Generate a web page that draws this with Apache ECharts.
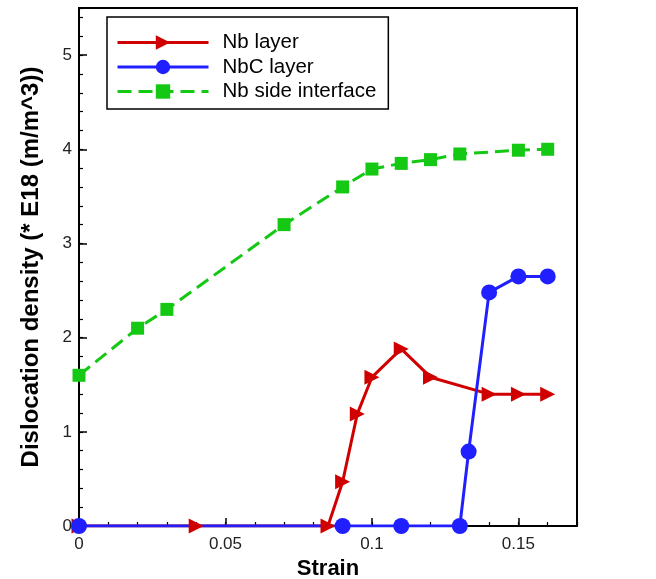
<!DOCTYPE html>
<html>
<head>
<meta charset="utf-8">
<script src="https://cdn.jsdelivr.net/npm/echarts@6/dist/echarts.min.js"></script>
<style>
  html, body { margin: 0; padding: 0; background: #fff; }
  #chart { width: 656px; height: 579px; }
</style>
</head>
<body>
<div id="chart"></div>
<script>
// values
const nbStrain = [0, 0.04, 0.085, 0.09, 0.095, 0.1, 0.11, 0.12, 0.14, 0.15, 0.16];
const nbDensity = [0, 0, 0, 0.47, 1.19, 1.58, 1.88, 1.58, 1.4, 1.4, 1.4];

const nbcStrain = [0, 0.09, 0.11, 0.13, 0.133, 0.14, 0.15, 0.16];
const nbcDensity = [0, 0, 0, 0, 0.79, 2.48, 2.65, 2.65];

const ifStrain = [0, 0.02, 0.03, 0.07, 0.09, 0.1, 0.11, 0.12, 0.13, 0.15, 0.16];
const ifDensity = [1.6, 2.1, 2.3, 3.2, 3.6, 3.79, 3.85, 3.89, 3.95, 3.99, 4.0];

const seriesNames = ['Nb layer', 'NbC layer', 'Nb side interface'];

const font = 'Liberation Sans';
const pair = (xs, ys) => xs.map((x, i) => [x, ys[i]]);

const chart = echarts.init(document.getElementById('chart'));

// major ticks + labels on one axis, minor ticks on a second one laid over it
const majorX = {
  type: 'value', position: 'bottom', min: 0, max: 0.17, interval: 0.05,
  axisLine: { show: true, lineStyle: { color: '#000', width: 2 } },
  axisTick: { show: true, inside: true, length: 8, lineStyle: { color: '#000', width: 1.5 } },
  axisLabel: {
    showMaxLabel: false, margin: 10, color: '#222', fontFamily: font, fontSize: 17,
    formatter: v => (v === 0 ? '0' : String(+v.toFixed(2)))
  },
  splitLine: { show: false },
  name: 'Strain', nameLocation: 'middle', nameGap: 23,
  nameTextStyle: { fontFamily: font, fontWeight: 'bold', fontSize: 22, color: '#000' }
};
const minorX = {
  type: 'value', position: 'bottom', min: 0, max: 0.17, interval: 0.01,
  axisLine: { show: false },
  axisTick: { show: true, inside: true, length: 4, lineStyle: { color: '#000', width: 1.2 } },
  axisLabel: { show: false },
  splitLine: { show: false }
};
const majorY = {
  type: 'value', position: 'left', min: 0, max: 5.5, interval: 1,
  axisLine: { show: true, lineStyle: { color: '#000', width: 2 } },
  axisTick: { show: true, inside: true, length: 8, lineStyle: { color: '#000', width: 1.5 } },
  axisLabel: { showMaxLabel: false, margin: 7, color: '#222', fontFamily: font, fontSize: 17 },
  splitLine: { show: false },
  name: 'Dislocation density (* E18 (m/m^3))', nameLocation: 'middle', nameGap: 36,
  nameTextStyle: { fontFamily: font, fontWeight: 'bold', fontSize: 24, color: '#000' }
};
const minorY = {
  type: 'value', position: 'left', min: 0, max: 5.5, interval: 0.2,
  axisLine: { show: false },
  axisTick: { show: true, inside: true, length: 4, lineStyle: { color: '#000', width: 1.2 } },
  axisLabel: { show: false },
  splitLine: { show: false }
};

const option = {
  backgroundColor: '#fff',
  animation: false,
  grid: {
    left: 79, right: 79, top: 8, bottom: 53,
    outerBoundsMode: 'none', containLabel: false,
    show: true, borderColor: '#000', borderWidth: 2, backgroundColor: 'transparent'
  },
  legend: {
    orient: 'vertical', left: 107, top: 17,
    data: seriesNames,
    itemWidth: 91, itemHeight: 18, itemGap: 3.5,
    padding: [15, 12, 7, 9],
    borderColor: '#000', borderWidth: 1.5,
    lineStyle: { width: 3 },
    textStyle: { fontFamily: font, fontSize: 20.5, color: '#000', padding: [0, 0, 0, 9] }
  },
  xAxis: [majorX, minorX],
  yAxis: [majorY, minorY],
  series: [
    {
      name: seriesNames[0], type: 'line',
      data: pair(nbStrain, nbDensity),
      symbol: 'triangle', symbolRotate: -90, symbolSize: 15,
      lineStyle: { color: '#d00000', width: 3 },
      itemStyle: { color: '#d00000' }
    },
    {
      name: seriesNames[1], type: 'line',
      data: pair(nbcStrain, nbcDensity),
      symbol: 'circle', symbolSize: 16,
      lineStyle: { color: '#1f1fff', width: 3 },
      itemStyle: { color: '#1f1fff' }
    },
    {
      name: seriesNames[2], type: 'line',
      data: pair(ifStrain, ifDensity),
      symbol: 'rect', symbolSize: 13,
      lineStyle: { color: '#14c814', width: 3, type: [14, 7] },
      itemStyle: { color: '#14c814' }
    }
  ]
};

chart.setOption(option);
</script>
</body>
</html>
